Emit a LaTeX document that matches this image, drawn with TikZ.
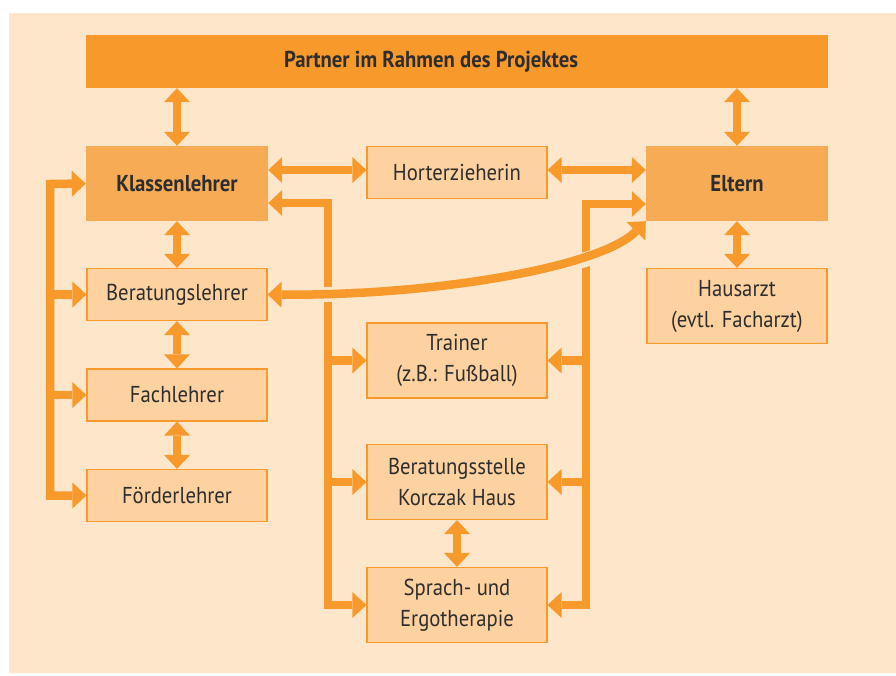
\documentclass[tikz,border=0pt]{standalone}
\usepackage{fontspec}
\setmainfont[FakeStretch=0.9]{PT Sans}
\usetikzlibrary{arrows.meta}

\definecolor{orgdark}{HTML}{F7992B}
\definecolor{orgmid}{HTML}{F8AB55}
\definecolor{orgpale}{HTML}{FDD1A0}
\definecolor{bgpeach}{HTML}{FEE6CB}
\definecolor{txt}{HTML}{2E2E2E}

\tikzset{
		lbl/.style={font=\fontsize{23}{31}\selectfont, text=txt},
		bold/.style={font=\fontsize{23}{31}\selectfont\bfseries, text=txt},
		bar/.style={fill=orgdark, minimum width=742pt, minimum height=53pt},
		head/.style={bold, fill=orgmid, minimum width=182pt, minimum height=75pt},
		box/.style={lbl, draw=orgdark, line width=1.2pt, fill=orgpale, minimum width=180pt, align=center},
		tip/.tip={Triangle[width=26pt, length=14pt, line width=0pt]},
		arrow/.style={draw=orgdark, line width=8.5pt, -tip},
		both/.style={draw=orgdark, line width=8.5pt, tip-tip},
		halo/.style={draw=bgpeach, line width=15pt, shorten <=25pt, shorten >=25pt}
	}

\begin{document}
\begin{tikzpicture}[x=1pt, y=-1pt]
	
	\useasboundingbox (0,0) rectangle (896,675);
	\fill[bgpeach] (9,13) rectangle (896,673);
	
	\node (top) at (457,61.5) [bar] {};
	\node (ttl) at (431,61.5) [bold] {Partner im Rahmen des Projektes};
	
	\node (kl) at (177,183.5) [head] {Klassenlehrer};
	\node (el) at (737,183.5) [head] {Eltern};
	\node (hz) at (457,172.5) [box, minimum height=52pt] {Horterzieherin};
	
	\node (bl) at (177,294.5) [box, minimum height=52pt] {Beratungslehrer};
	\node (fa) at (177,395) [box, minimum height=52pt] {Fachlehrer};
	\node (fo) at (177,495.5) [box, minimum height=52pt] {Förderlehrer};
	
	\node (tr) at (457,360.5) [box, minimum height=75pt] {Trainer\\(z.B.: Fußball)};
	\node (bs) at (457,482) [box, minimum height=75pt] {Beratungsstelle\\Korczak Haus};
	\node (sp) at (457,605) [box, minimum height=75pt] {Sprach- und\\Ergotherapie};
	\node (ha) at (737,306) [box, minimum height=75pt] {Hausarzt\\(evtl. Facharzt)};
	
	\coordinate (lb) at (50,184);
	\coordinate (lm) at (328,203);
	\coordinate (rm) at (586,204);
	
	% vertical links
	\draw [both] (kl |- top.south) -- (kl.north);
	\draw [both] (el |- top.south) -- (el.north);
	\draw [both] (kl.south) -- (bl.north);
	\draw [both] (bl.south) -- (fa.north);
	\draw [both] (fa.south) -- (fo.north);
	\draw [both] (el.south) -- (ha.north);
	\draw [both] (bs.south) -- (sp.north);
	
	% horizontal links
	\draw [both] ([yshift=2.5pt]hz.west -| kl.east) -- ([yshift=2.5pt]hz.west);
	\draw [both] ([yshift=2.5pt]hz.east) -- ([yshift=2.5pt]hz.east -| el.west);
	
	% left bracket
	\draw [both] (kl.west) -- (lb) -- (lb |- fo.west) -- (fo.west);
	\draw [arrow] (lb |- bl.west) -- (bl.west);
	\draw [arrow] (lb |- fa.west) -- (fa.west);
	
	% middle brackets
	\draw [both] (lm -| kl.east) -- (lm) -- (lm |- sp.west) -- (sp.west);
	\draw [arrow] (lm |- tr.west) -- (tr.west);
	\draw [arrow] (lm |- bs.west) -- (bs.west);
	\draw [both] (rm -| el.west) -- (rm) -- (rm |- sp.east) -- (sp.east);
	\draw [arrow] (rm |- tr.east) -- (tr.east);
	\draw [arrow] (rm |- bs.east) -- (bs.east);
	
	% curved link
	\draw [halo] (bl.east) .. controls (430,296) and (600,268) .. (el.south west);
	\draw [both] (bl.east) .. controls (430,296) and (600,268) .. (el.south west);
	
\end{tikzpicture}
\end{document}
